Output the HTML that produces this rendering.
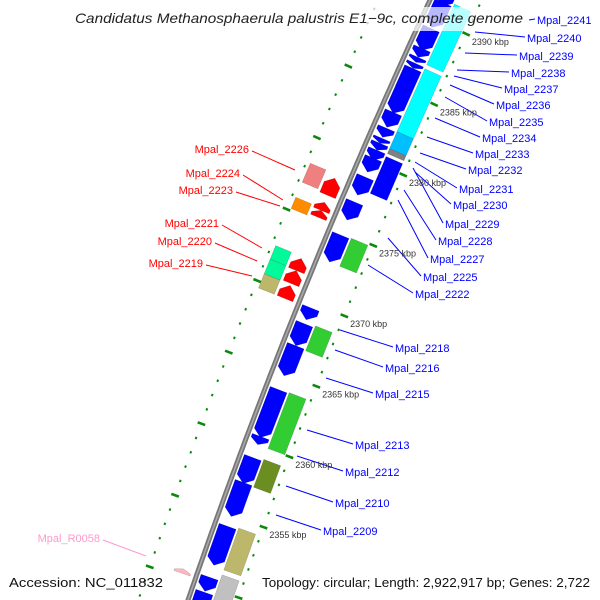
<!DOCTYPE html>
<html><head><meta charset="utf-8"><style>
html,body{margin:0;padding:0;background:#fff}
svg{display:block;font-family:"Liberation Sans",sans-serif}
</style></head><body>
<svg id="map" width="600" height="600" viewBox="0 0 600 600" xmlns="http://www.w3.org/2000/svg">
<rect x="0" y="0" width="600" height="600" fill="#fff"/>
<g id="dots"></g>
<g id="genes"></g>
<g id="backbone"></g>
<g id="labels"></g>
<g id="ticks"></g>
<rect x="70" y="7" width="458" height="24" fill="#fff" fill-opacity="0.72"/>
<text x="75" y="23" font-size="14" font-style="italic" fill="#222" textLength="448" lengthAdjust="spacingAndGlyphs">Candidatus Methanosphaerula palustris E1−9c, complete genome</text>
<text x="9" y="587" font-size="13" fill="#111" textLength="154" lengthAdjust="spacingAndGlyphs">Accession: NC_011832</text>
<text x="262" y="587" font-size="13" fill="#111" textLength="328" lengthAdjust="spacingAndGlyphs">Topology: circular; Length: 2,922,917 bp; Genes: 2,722</text>
</svg>
<script>
// ring1: reverse-strand genes (arrows pointing to lower kbp)
const ring1Start = [2391.9,2391.2,2389.38,2387.97,2387.34,2386.92,2386.56,2385.15,2383.46,2382.34,2381.63,2381.28,2380.79,2380.23,2378.89,2377.13,2374.80,2369.66,2368.54,2366.99,2363.89,2360.58,2359.10,2357.34,2354.24,2350.65,2349.59];
const ring1End   = [2390.95,2389.45,2387.83,2387.34,2386.99,2386.56,2384.66,2383.39,2382.41,2381.70,2381.28,2380.79,2380.08,2379.24,2377.62,2375.86,2372.90,2368.82,2366.99,2364.87,2360.51,2360.01,2357.27,2354.94,2351.49,2349.66,2348.2];
// ring2: blocks
const ring2Start = [2391.42,2386.85,2382.41,2381.21,2380.65,2374.87,2368.68,2363.96,2359.24,2354.38,2351.07];
const ring2End   = [2387.13,2382.41,2381.21,2380.86,2378.04,2372.90,2366.92,2360.01,2357.27,2351.42,2348.9];
const ring2Color = ["#00ffff","#00ffff","#00bfff","#808080","#0000ff","#32cd32","#32cd32","#32cd32","#6b8e23","#bdb76b","#c0c0c0"];
// ringA: forward-strand inner arrows
const ringAStart = [2376.85,2375.79,2375.30,2371.56,2370.65,2369.59,2350.30];
const ringAEnd   = [2378.04,2376.35,2375.79,2372.41,2371.56,2370.51,2350.60];
const ringAColor = ["#ff0000","#ff0000","#ff0000","#ff0000","#ff0000","#ff0000","#ffb6c1"];
// ringB: inner blocks
const ringBStart = [2376.99,2375.15,2371.60,2370.58,2369.59];
const ringBEnd   = [2378.32,2375.93,2372.55,2371.60,2370.58];
const ringBColor = ["#f08080","#ff8c00","#00fa9a","#00fa9a","#bdb76b"];
// kbp tick values
const tickKbp = [2390,2385,2380,2375,2370,2365,2360,2355];
// right labels: name, label x, label y, gene kbp anchor
const rLabelNames = ["Mpal_2241","Mpal_2240","Mpal_2239","Mpal_2238","Mpal_2237","Mpal_2236","Mpal_2235","Mpal_2234","Mpal_2233","Mpal_2232","Mpal_2231","Mpal_2230","Mpal_2229","Mpal_2228","Mpal_2227","Mpal_2225","Mpal_2222","Mpal_2218","Mpal_2216","Mpal_2215","Mpal_2213","Mpal_2212","Mpal_2210","Mpal_2209"];
const rLabelX = [537,527,519,511,504,496,489,482,475,468,459,453,445,438,430,423,415,395,385,375,355,345,335,323];
const rLabelY = [20,38,56,73,89,105,122,138,154,170,189,205,224,241,259,277,294,348,368,394,445,472,503,531];
const rLineX = [529,475,465,457,454,450,445,435,427,420,415,415,413,404,398,388,368,340,335,326,307,297,286,276];
const rLineY = [20,32,53,70,76,85,97,118,137,153,162,172,168,190,200,238,265,330,350,378,430,456,486,515];
const lLabelNames = ["Mpal_2226","Mpal_2224","Mpal_2223","Mpal_2221","Mpal_2220","Mpal_2219","Mpal_R0058"];
const lLabelX = [249,240,233,219,212,203,100];
const lLabelY = [149,173,190,223,241,263,538];
const lLineX = [295,283,280,262,257,252,146];
const lLineY = [170,200,206,248,261,276,556];
const lLabelColor = ["#ff0000","#ff0000","#ff0000","#ff0000","#ff0000","#ff0000","#ff99cc"];

const NS = "http://www.w3.org/2000/svg";
function uOf(k){return (2391-k)*14.2;}
function pt(k,off){
  const u=uOf(k);
  const bx=430-0.4633*u+0.0001*u*u;
  const s=-0.4633+0.0002*u;
  const n=Math.sqrt(1+s*s);
  return [bx+off/n, u-off*s/n];
}
function mk(tag,attrs,parent){const e=document.createElementNS(NS,tag);for(const a in attrs)e.setAttribute(a,attrs[a]);parent.appendChild(e);return e;}
function ps(arr){return arr.map(p=>p[0].toFixed(1)+","+p[1].toFixed(1)).join(" ");}
function block(k1,k2,o1,o2){const a=Math.max(k1,k2),b=Math.min(k1,k2);return [pt(a,o1),pt(a,o2),pt(b,o2),pt(b,o1)];}
function arrowDown(k1,k2,o1,o2){const a=Math.max(k1,k2),b=Math.min(k1,k2);const h=Math.min(0.45,(a-b)*0.6);
  return [pt(a,o1),pt(a,o2),pt(b+h,o2),pt(b,(o1+o2)/2),pt(b+h,o1)];}
function arrowUp(k1,k2,o1,o2){const a=Math.max(k1,k2),b=Math.min(k1,k2);const h=Math.min(0.45,(a-b)*0.6);
  return [pt(b,o1),pt(b,o2),pt(a-h,o2),pt(a,(o1+o2)/2),pt(a-h,o1)];}

const gDots=document.getElementById('dots');
for(let k=2348;k<=2392;k++){
  const big=(k%5===0);
  [47,-47].forEach(o=>{
    const p1=pt(k,o-(big?4:1)),p2=pt(k,o+(big?4:1));
    const l=mk('line',{x1:p1[0],y1:p1[1],x2:p2[0],y2:p2[1],stroke:"#0a8a0a","stroke-width":big?2.6:2.4},gDots);
    
    
  });
}
const gGenes=document.getElementById('genes');
function drawGene(pts,color,name){
  const p=mk('polygon',{points:ps(pts),fill:color,stroke:"rgba(0,0,0,0.25)","stroke-width":0.5},gGenes);
  
  
}
for(let i=0;i<ring1Start.length;i++) drawGene(arrowDown(ring1Start[i],ring1End[i],4,22),"#0000ff","gene-ring1");
for(let i=0;i<ring2Start.length;i++) drawGene(block(ring2Start[i],ring2End[i],24,42),ring2Color[i],"gene-ring2");
for(let i=0;i<ringAStart.length;i++) drawGene(arrowUp(ringAStart[i],ringAEnd[i],-6,-23),ringAColor[i],"gene-inner-arrow");
for(let i=0;i<ringBStart.length;i++) drawGene(block(ringBStart[i],ringBEnd[i],-26,-43),ringBColor[i],"gene-inner-block");

const gBack=document.getElementById('backbone');
let d="";
for(let k=2393;k>=2347;k-=0.5){const p=pt(k,0);d+=(d?"L":"M")+p[0].toFixed(1)+","+p[1].toFixed(1);}
const bb=mk('path',{d:d,stroke:"#777",fill:"none","stroke-width":5},gBack);


const bb2=mk('path',{d:d,stroke:"#aaa",fill:"none","stroke-width":1.5},gBack);



const gTicks=document.getElementById('ticks');
tickKbp.forEach(k=>{
  const p=pt(k,50);
  const t=mk('text',{x:p[0]+3,y:p[1]+10,"font-size":9,fill:"#333"},gTicks);
  t.textContent=k+" kbp";
  
  
});

const gLab=document.getElementById('labels');
for(let i=0;i<rLabelNames.length;i++){
  const l=mk('line',{x1:rLineX[i],y1:rLineY[i],x2:rLabelX[i]-2,y2:rLabelY[i]-1,stroke:"#0000ff","stroke-width":1},gLab);
  
  
  const t=mk('text',{x:rLabelX[i],y:rLabelY[i]+4,"font-size":11,fill:"#0000ff"},gLab);
  t.textContent=rLabelNames[i];
  
  
}
for(let i=0;i<lLabelNames.length;i++){
  const l=mk('line',{x1:lLineX[i],y1:lLineY[i],x2:lLabelX[i]+3,y2:lLabelY[i]+2,stroke:lLabelColor[i],"stroke-width":1},gLab);
  
  
  const t=mk('text',{x:lLabelX[i],y:lLabelY[i]+4,"font-size":11,fill:lLabelColor[i],"text-anchor":"end"},gLab);
  t.textContent=lLabelNames[i];
  
  
}
</script>
</body></html>
